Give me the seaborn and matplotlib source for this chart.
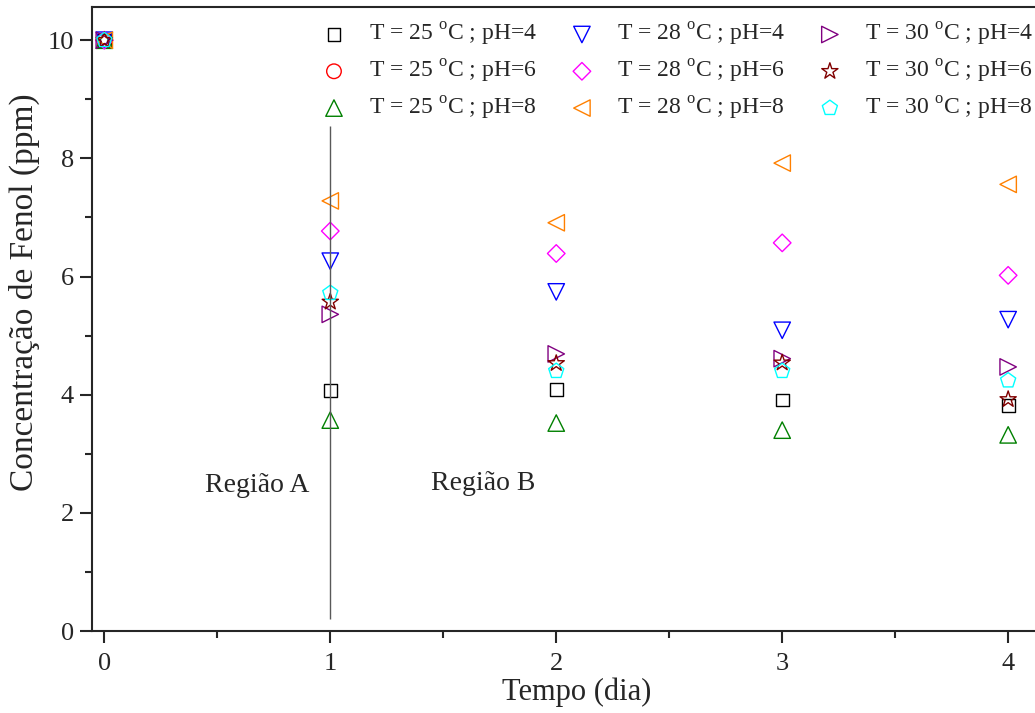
import numpy as np
import pandas as pd
import seaborn as sns
import matplotlib
matplotlib.use("Agg")
import matplotlib.pyplot as plt
from matplotlib.ticker import MultipleLocator

# Data (Tempo in dias, concentration in ppm)
tempo = [0, 1, 2, 3, 4]

t25_ph4 = [10.0, 4.07, 4.09, 3.91, 3.82]
t25_ph6 = [10.0, np.nan, np.nan, np.nan, np.nan]
t25_ph8 = [10.0, 3.57, 3.52, 3.40, 3.32]
t28_ph4 = [10.0, 6.26, 5.74, 5.09, 5.27]
t28_ph6 = [10.0, 6.77, 6.39, 6.57, 6.02]
t28_ph8 = [10.0, 7.28, 6.91, 7.92, 7.56]
t30_ph4 = [10.0, 5.36, 4.69, 4.61, 4.47]
t30_ph6 = [10.0, 5.57, 4.53, 4.54, 3.92]
t30_ph8 = [10.0, 5.72, 4.40, 4.40, 4.24]

labels = [
    "T = 25 $^\\mathrm{o}$C ; pH=4", "T = 25 $^\\mathrm{o}$C ; pH=6", "T = 25 $^\\mathrm{o}$C ; pH=8",
    "T = 28 $^\\mathrm{o}$C ; pH=4", "T = 28 $^\\mathrm{o}$C ; pH=6", "T = 28 $^\\mathrm{o}$C ; pH=8",
    "T = 30 $^\\mathrm{o}$C ; pH=4", "T = 30 $^\\mathrm{o}$C ; pH=6", "T = 30 $^\\mathrm{o}$C ; pH=8",
]
series = [t25_ph4, t25_ph6, t25_ph8, t28_ph4, t28_ph6, t28_ph8, t30_ph4, t30_ph6, t30_ph8]
markers = ["s", "o", "^", "v", "D", "<", ">", "*", "p"]
colors = ["black", "red", "green", "blue", "magenta", "#FF8000", "#800080", "#800000", "cyan"]
sizes = [85, 110, 140, 140, 80, 140, 140, 150, 130]

# boundary between the two regions
boundary_x = 1
boundary_y = (0.2, 8.55)

sns.set_style("ticks")
plt.rcParams["font.family"] = ["Liberation Serif", "DejaVu Serif"]
plt.rcParams["mathtext.fontset"] = "custom"
plt.rcParams["mathtext.rm"] = "Liberation Serif"

fig = plt.figure(figsize=(10.35, 7.13), dpi=100)
ax = fig.add_axes([0.089, 0.115, 0.92, 0.875])

for vals, lab, m, c, s in zip(series, labels, markers, colors, sizes):
    df = pd.DataFrame({"tempo": tempo, "conc": vals}).dropna()
    sns.scatterplot(data=df, x="tempo", y="conc", marker=m, s=s, color=c,
                    facecolor="none", edgecolor=c, linewidth=1.0, label=lab, ax=ax)

ax.vlines(boundary_x, boundary_y[0], boundary_y[1], color="0.35", lw=1.0)
ax.text(0.677, 2.47, "Região A", fontsize=20, ha="center", va="center")
ax.text(1.678, 2.5, "Região B", fontsize=20, ha="center", va="center")

ax.set_xlim(-0.054, 4.16)
ax.set_ylim(0, 10.56)
ax.xaxis.set_major_locator(MultipleLocator(1))
ax.xaxis.set_minor_locator(MultipleLocator(0.5))
ax.yaxis.set_major_locator(MultipleLocator(2))
ax.yaxis.set_minor_locator(MultipleLocator(1))
ax.tick_params(which="major", direction="out", length=8.5, width=1.5, labelsize=19)
ax.tick_params(which="minor", direction="out", length=5, width=1.5)
ax.tick_params(axis="y", which="major", pad=4.5)
ax.tick_params(axis="x", which="major", pad=7)
for sp in ax.spines.values():
    sp.set_linewidth(1.5)
    sp.set_visible(True)

ax.set_xlabel("Tempo (dia)", fontsize=22)
ax.set_ylabel("Concentração de Fenol (ppm)", fontsize=24)
ax.xaxis.set_label_coords(0.509, -0.075)
ax.yaxis.set_label_coords(-0.055, 0.543)

ax.legend(ncol=3, frameon=False, loc="upper left", bbox_to_anchor=(0.2168, 1.012),
          fontsize=17, handlelength=1.2, handletextpad=0.88, columnspacing=1.3,
          labelspacing=0.41, borderpad=0.4, scatterpoints=1)

fig.savefig("out.png", dpi=100)
